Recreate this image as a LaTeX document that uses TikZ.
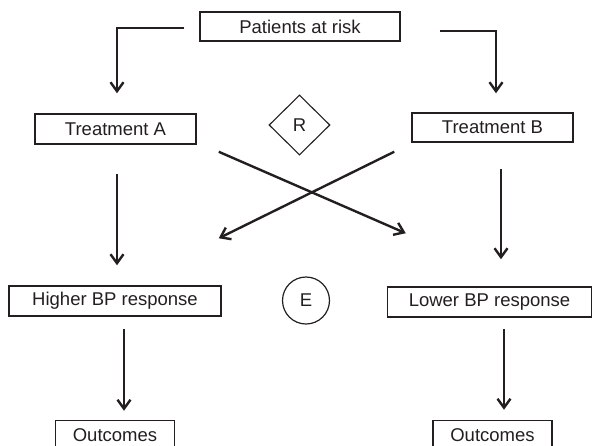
\documentclass[tikz,border=0pt]{standalone}
\usepackage{fontspec}
\setmainfont{Liberation Sans}
\usetikzlibrary{positioning,shapes.geometric,arrows.meta}
\definecolor{ink}{HTML}{231F20}

\begin{document}
\begin{tikzpicture}[%
    x=1pt, y=-1pt,
    color=ink,
    line width=2.4pt,
    >={Straight Barb[length=9pt,width=13pt]},
    font=\fontsize{18.5}{22}\selectfont,
    box/.style={%
      rectangle,
      line width=1.5pt,
      minimum height=30pt,
      inner sep=0pt,
      draw},
    rand/.style={%
      diamond,
      aspect=1,
      line width=1.1pt,
      minimum width=61pt,
      minimum height=60pt,
      inner sep=0pt,
      draw},
    effect/.style={%
      circle,
      line width=1.2pt,
      minimum size=47pt,
      inner sep=0pt,
      draw}
    ]
    \clip (0,0) rectangle (592,445);
    \node[box, minimum width=200pt, minimum height=29pt] (pat) at (300,26.5) {Patients at risk};
    \node[box, minimum width=161pt] (tA) at (115.5,129) {Treatment A};
    \node[box, minimum width=161pt, minimum height=29pt] (tB) at (492.5,127.5) {Treatment B};
    \node[rand] (R) at (299.5,125) {R};
    \node[box, minimum width=212pt] (hi) at (115,301) {Higher BP response};
    \node[effect] (E) at (306,300.5) {E};
    \node[box, minimum width=204pt] (lo) at (489.5,302) {Lower BP response};
    \node[box, minimum width=119pt] (oA) [below=103pt of hi] {Outcomes};
    \node[box, minimum width=119pt] (oB) [below=102pt of lo, xshift=3pt] {Outcomes};
    % randomisation
    \draw[->, shorten >=20pt] ([xshift=-15pt,yshift=-1.5pt]pat.west) -| ([xshift=1.5pt]tA.north);
    \draw[->, shorten >=19pt] ([xshift=39pt,yshift=-4.5pt]pat.east) -| ([xshift=3.5pt]tB.north);
    \path[->] ([xshift=1.5pt]tA.south) edge[shorten <=29pt, shorten >=20pt] ([xshift=2pt]hi.north)
          ([xshift=8.5pt]tB.south) edge[shorten <=26pt, shorten >=27pt] ([xshift=8.5pt]tB.south |- lo.north)
          ([shift={(22pt,-7pt)}]tA.south east) edge ([shift={(19pt,53pt)}]lo.north west)
          ([shift={(-17pt,-9pt)}]tB.south west) edge ([shift={(-3pt,47pt)}]hi.north east)
          ([xshift=9pt]hi.south) edge[shorten <=12pt, shorten >=9pt] ([xshift=9pt]hi.south |- oA.north)
          ([xshift=14.5pt]lo.south) edge[shorten <=11pt, shorten >=10pt] ([xshift=14.5pt]lo.south |- oB.north);
  \end{tikzpicture}
\end{document}
